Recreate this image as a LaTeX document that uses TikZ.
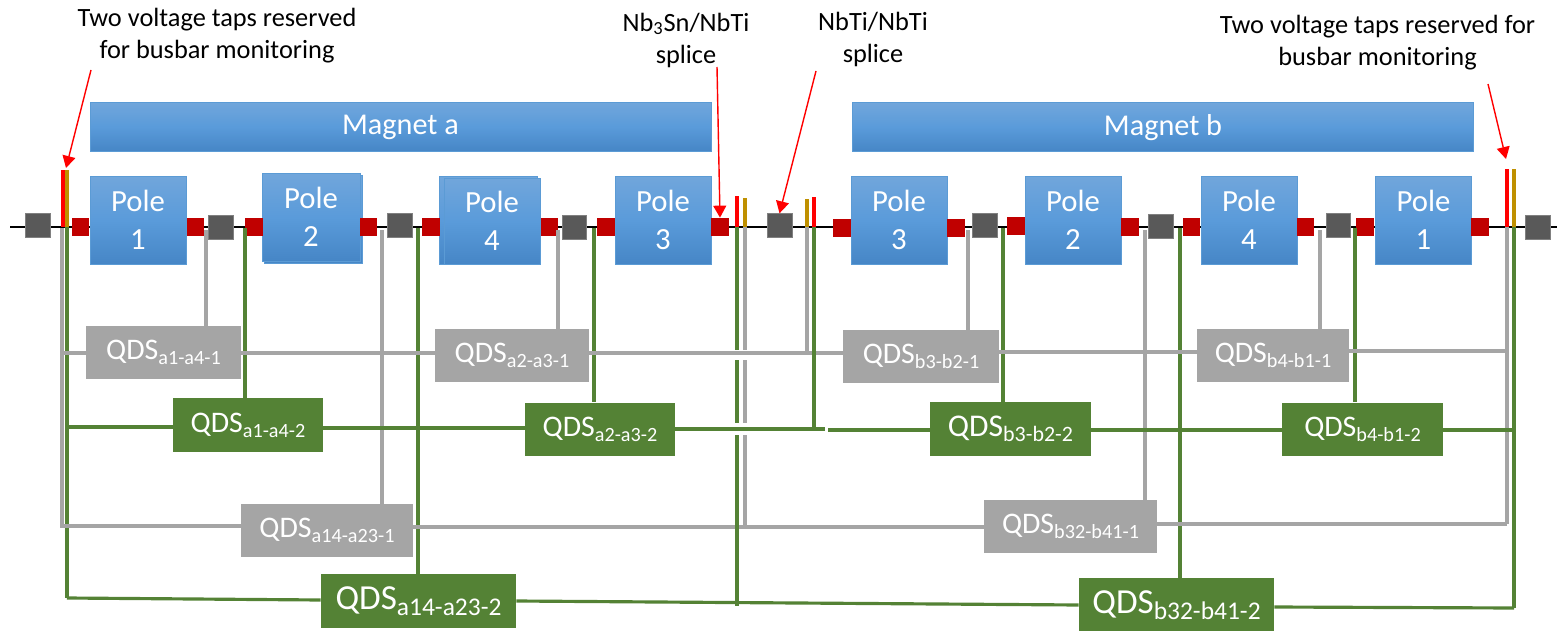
\documentclass[tikz,border=0pt]{standalone}
\usepackage{fontspec}
\setmainfont{Carlito}
\usepackage{xcolor}
\usetikzlibrary{arrows.meta}
\definecolor{poleEdge}{HTML}{5B9BD5}
\definecolor{poleTop}{HTML}{71A6DB}
\definecolor{poleMid}{HTML}{5A9BDA}
\definecolor{poleLow}{HTML}{4686C6}
\definecolor{spliceRed}{HTML}{C00000}
\definecolor{busGray}{HTML}{595959}
\definecolor{qdsGray}{HTML}{A5A5A5}
\definecolor{qdsGreen}{HTML}{548235}
\definecolor{tapOrange}{HTML}{BF9000}
\newcommand{\qds}[1]{QDS\raisebox{-0.35ex}{\fontsize{11.5}{12}\selectfont #1}}
\newcommand{\qdsmid}[1]{QDS\raisebox{-0.35ex}{\fontsize{12.5}{13}\selectfont #1}}
\newcommand{\qdsbig}[1]{QDS\raisebox{-0.35ex}{\fontsize{14.5}{15}\selectfont #1}}
\tikzset{
  blueblock/.style={draw=poleEdge, line width=0.4pt, top color=poleTop, bottom color=poleLow, middle color=poleMid, text=white, inner sep=0pt, align=center},
  magnetbox/.style={blueblock, minimum width=12.42cm, minimum height=0.98cm, font=\fontsize{17.2}{20}\selectfont},
  polebox/.style={blueblock, minimum width=1.92cm, minimum height=1.76cm, font=\fontsize{17.5}{21.6}\selectfont},
  splicebox/.style={fill=spliceRed, minimum width=0.35cm, minimum height=0.36cm, inner sep=0pt},
  grayblock/.style={fill=busGray, draw=gray, line width=0.2pt, minimum width=0.49cm, minimum height=0.48cm, inner sep=0pt},
  qdsone/.style={fill=qdsGray, text=white, inner sep=0pt, minimum height=1.06cm, font=\fontsize{17}{18}\selectfont},
  qdstwo/.style={fill=qdsGreen, text=white, inner sep=0pt, minimum height=1.07cm, font=\fontsize{17}{18}\selectfont},
  grayline/.style={draw=qdsGray, line width=1.8pt},
  greenline/.style={draw=qdsGreen, line width=1.8pt},
  redtap/.style={draw=red, line width=2.1pt},
  orangetap/.style={draw=tapOrange, line width=2.1pt},
  redarrow/.style={draw=red, line width=0.8pt, -{Triangle[length=0.24cm,width=0.26cm]}},
  notelabel/.style={align=center, text=black, inner sep=0pt, font=\fontsize{15}{18.2}\selectfont}
}
\begin{document}
\begin{tikzpicture}[x=0.02cm, y=-0.02cm]
  \useasboundingbox (0,0) rectangle (1557,631);
  % Busbar
  \coordinate (busL) at (10,227);
  \coordinate (busR) at (1557,227);
  \draw[black, line width=1pt] (busL) -- (busR);
  % Magnets
  \node[magnetbox] (magnetA) at (400.5,126.5) {\raisebox{-4.8pt}[0pt][0pt]{Magnet a}};
  \node[magnetbox] (magnetB) at (1163,127) {\raisebox{-4.8pt}[0pt][0pt]{Magnet b}};
  % Poles of magnet a
  \node[polebox] (poleA1) at (138,220) {Pole\\1};
  \node[polebox, minimum width=1.96cm] at (313,219) {};
  \node[polebox, minimum width=1.96cm] (poleA2) at (311,217) {Pole\\2};
  \node[polebox, minimum width=1.96cm] at (488,220) {};
  \node[polebox, minimum height=1.72cm] (poleA4) at (492,221) {Pole\\4};
  \node[polebox] (poleA3) at (663,220) {Pole\\3};
  % Poles of magnet b
  \node[polebox] (poleB3) at (899,220) {Pole\\3};
  \node[polebox] (poleB2) at (1073,220) {Pole\\2};
  \node[polebox] (poleB4) at (1249,220) {Pole\\4};
  \node[polebox] (poleB1) at (1423.5,220) {Pole\\1};
  % Splices
  \foreach \px/\py/\pname in {80.5/227/s1, 195.5/227/s2, 254/227/s3, 368.5/227/s4, 431/227/s5, 549.5/227/s6, 606/227/s7, 720/227/s8, 842/228/s9, 956/228/s10, 1016/226/s11, 1130/227/s12, 1191.5/227/s13, 1305.5/227/s14, 1365/227/s15, 1480/227/s16}
    \node[splicebox] (\pname) at (\px,\py) {};
  % Gray blocks on the busbar
  \foreach \px/\py/\pname in {37.5/225/g1, 220.5/227/g2, 399.5/225/g3, 574/227/g4, 779.5/225.5/g5, 984.5/225/g6, 1160.5/226.5/g7, 1338/225/g8, 1537.5/227/g9}
    \node[grayblock] (\pname) at (\px,\py) {};
  % QDS units
  \node[qdsone] (qdsA1) at (163.5,352.5) [minimum width=3.1cm] {\qds{a1-a4-1}};
  \node[qdstwo] (qdsA2) at (248,425) [minimum width=3cm] {\qds{a1-a4-2}};
  \node[qdsone] (qdsA3) at (512,355.5) [minimum width=3.08cm] {\qds{a2-a3-1}};
  \node[qdstwo] (qdsA4) at (600,429.5) [minimum width=3cm] {\qds{a2-a3-2}};
  \node[qdsone] (qdsA5) at (327,530.5) [minimum width=3.44cm] {\qds{a14-a23-1}};
  \node[qdstwo, font=\fontsize{20}{21}\selectfont] (qdsA6) at (418.5,601) [minimum width=3.9cm] {\qdsbig{a14-a23-2}};
  \node[qdsone] (qdsB1) at (921,356.5) [minimum width=3.12cm] {\qds{b3-b2-1}};
  \node[qdstwo, font=\fontsize{18}{19}\selectfont] (qdsB2) at (1010.5,429) [minimum width=3.22cm] {\qdsmid{b3-b2-2}};
  \node[qdsone] (qdsB3) at (1273,355.5) [minimum width=3.04cm] {\qds{b4-b1-1}};
  \node[qdstwo] (qdsB4) at (1362.5,429.5) [minimum width=3.22cm] {\qds{b4-b1-2}};
  \node[qdsone] (qdsB5) at (1070.5,526.5) [minimum width=3.46cm] {\qds{b32-b41-1}};
  \node[qdstwo, font=\fontsize{20}{21}\selectfont] (qdsB6) at (1176.5,605) [minimum width=3.9cm] {\qdsbig{b32-b41-2}};
  % Voltage taps on the busbar
  \coordinate (tapRL) at (63,227);
  \coordinate (tapOL) at (67,227);
  \coordinate (tapRM) at (737,227);
  \coordinate (tapOM) at (745,227);
  \coordinate (tapOS) at (807,227);
  \coordinate (tapRS) at (814,227);
  \coordinate (tapRR) at (1507,227);
  \coordinate (tapOR) at (1514,227);
  \draw[redtap] (tapRL) -- ++(0,-57);
  \draw[orangetap] (tapOL) -- ++(0,-57);
  \draw[redtap] (tapRM) -- ++(0,-31);
  \draw[orangetap] (tapOM) -- ++(0,-29);
  \draw[orangetap] (tapOS) -- ++(0,-28);
  \draw[redtap] (tapRS) -- ++(0,-30);
  \draw[redtap] (tapRR) -- ++(0,-58);
  \draw[orangetap] (tapOR) -- ++(0,-58);
  % Long feeders
  \coordinate (grayEndL) at (60,526);
  \coordinate (grayEndR) at (1507,524);
  \coordinate (greenEndL) at (67,598);
  \coordinate (greenEndR) at (1514,608);
  \coordinate (greenMidL) at (67,427);
  \coordinate (greenMidR) at (1514,430);
  \coordinate (grayMidL) at (62,353);
  \coordinate (grayMidR) at (1507,351);
  \draw[grayline] (62,228) -- (62,526);
  \draw[greenline] (tapOL) -- (greenEndL);
  \draw[grayline] (tapRR) -- (grayEndR);
  \draw[greenline] (tapOR) -- (greenEndR);
  % Taps between the poles
  \foreach \tx/\tq in {206/qdsA1, 558/qdsA3, 968/qdsB1, 1320/qdsB3, 382/qdsA5, 1145/qdsB5}
    \draw[grayline] (\tx,230) -- (\tx,0 |- \tq.north);
  \foreach \tx/\tq in {245/qdsA2, 594/qdsA4, 1003/qdsB2, 1355/qdsB4, 418/qdsA6, 1180/qdsB6}
    \draw[greenline] (\tx,228) -- (\tx,0 |- \tq.north);
  % Gray row one
  \draw[grayline] (grayMidL) -- (qdsA1.west |- grayMidL);
  \draw[grayline] (qdsA1.east |- grayMidL) -- (qdsA3.west |- grayMidL);
  \draw[grayline] (qdsA3.east |- grayMidL) -- (qdsB1.west |- grayMidL);
  \draw[grayline] (qdsB1.east |- 0,352) -- (qdsB3.west |- 0,352);
  \draw[grayline] (qdsB3.east |- grayMidR) -- (grayMidR);
  \draw[grayline] (tapOS) -- (807,353);
  % Green row one
  \draw[greenline] (greenMidL) -- (qdsA2.west |- greenMidL);
  \draw[greenline] (qdsA2.east |- 0,428) -- (qdsA4.west |- 0,428);
  \draw[greenline] (qdsA4.east |- 0,429) -- (825,429);
  \draw[greenline] (828,430) -- (qdsB2.west |- 0,430);
  \draw[greenline] (qdsB2.east |- 0,430) -- (qdsB4.west |- 0,430);
  \draw[greenline] (qdsB4.east |- greenMidR) -- (greenMidR);
  \draw[greenline] (tapRS) -- (814,429);
  % Gray row two
  \draw[grayline] (grayEndL) -- (qdsA5.west |- grayEndL);
  \draw[grayline] (qdsA5.east |- 0,527) -- (qdsB5.west |- 0,527);
  \draw[grayline] (qdsB5.east |- grayEndR) -- (grayEndR);
  % Green row two
  \draw[greenline] (greenEndL) -- (qdsA6.west |- 0,600);
  \draw[greenline] (qdsA6.east |- 0,601) -- (qdsB6.west |- 0,605);
  \draw[greenline] (qdsB6.east |- 0,607) -- (greenEndR);
  % Middle feeders, broken where the rows pass
  \draw[greenline] (tapRM) -- (737,350) (737,360) -- (737,423) (737,435) -- (737,606);
  \draw[grayline] (tapOM) -- (745,350) (745,360) -- (745,423) (745,435) -- (745,527);
  % Notes
  \node[notelabel] (noteLeft) at (217,36) {Two voltage taps reserved\\for busbar monitoring};
  \node[notelabel] (noteSplA) at (686,40) {Nb\textsubscript{3}Sn/NbTi\\splice};
  \node[notelabel] (noteSplB) at (873,39) {NbTi/NbTi\\splice};
  \node[notelabel] (noteRight) at (1377.5,43) {Two voltage taps reserved for\\busbar monitoring};
  \coordinate (arrLeft) at (91,70);
  \coordinate (arrSplA) at (717,67);
  \coordinate (arrSplB) at (816,71);
  \coordinate (arrRight) at (1488,84);
  \coordinate (tipLeft) at (66,168);
  \coordinate (tipRight) at (1506,159);
  \draw[redarrow] (arrLeft) -- (tipLeft);
  \draw[redarrow] (arrSplA) -- (s8.north);
  \draw[redarrow] (arrSplB) -- (g5.north);
  \draw[redarrow] (arrRight) -- (tipRight);
\end{tikzpicture}
\end{document}
